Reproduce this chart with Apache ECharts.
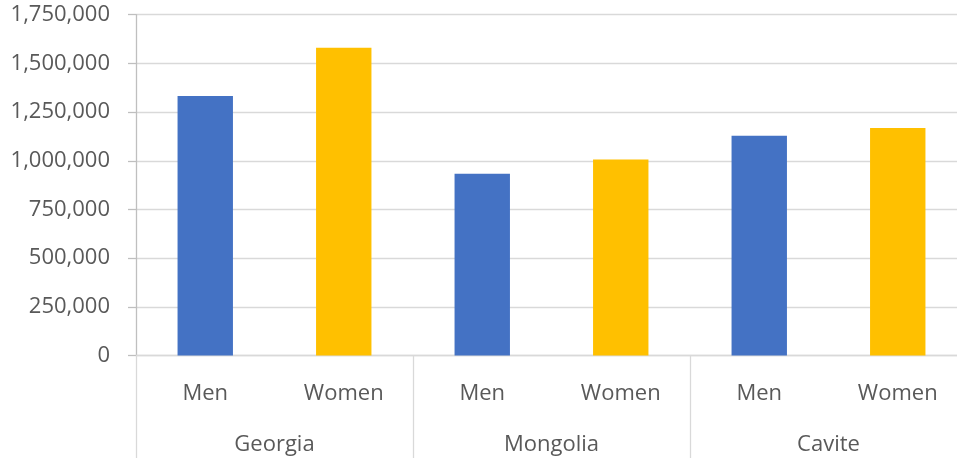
<!DOCTYPE html>
<html>
<head>
<meta charset="utf-8">
<script src="https://cdn.jsdelivr.net/npm/echarts@6/dist/echarts.min.js"></script>
<style>html,body{margin:0;padding:0;background:#fff}#c{width:957px;height:458px}</style>
</head>
<body>
<div id="c"></div>
<script>
const groups = ['Georgia', 'Mongolia', 'Cavite'];
const genders = ['Men', 'Women'];
const categories = ['Men', 'Women', 'Men', 'Women', 'Men', 'Women'];
const values = [1333000, 1580000, 933000, 1007000, 1128000, 1168000];
const yTicks = [0, 250000, 500000, 750000, 1000000, 1250000, 1500000, 1750000];
const genderColors = ['#4472C4', '#FFC000'];

const font = '"Open Sans", "Noto Sans", sans-serif';
const chart = echarts.init(document.getElementById('c'), null, {renderer: 'canvas'});
chart.setOption({
  animation: false,
  grid: {left: 136, right: -10, top: 14.7, bottom: 102.4, containLabel: false, outerBoundsMode: 'none'},
  xAxis: [
    {
      type: 'category', data: categories, position: 'bottom',
      axisLine: {show: true, lineStyle: {color: '#d9d9d9', width: 1.3}},
      axisTick: {show: false},
      axisLabel: {color: '#595959', fontSize: 22, fontFamily: font, margin: 27}
    },
    {
      type: 'category', data: groups, position: 'bottom',
      axisLine: {show: false},
      axisTick: {show: true, length: 110, inside: false, lineStyle: {color: '#d9d9d9', width: 1.3}},
      axisLabel: {color: '#595959', fontSize: 22, fontFamily: font, margin: 78}
    }
  ],
  yAxis: {
    type: 'value', min: yTicks[0], max: yTicks[yTicks.length - 1], interval: yTicks[1] - yTicks[0],
    axisLine: {show: true, lineStyle: {color: '#bfbfbf', width: 1.3}},
    axisTick: {show: true, length: 8, lineStyle: {color: '#bfbfbf', width: 1.3}},
    splitLine: {show: true, lineStyle: {color: '#d9d9d9', width: 1.3}},
    axisLabel: {color: '#595959', fontSize: 22, fontFamily: font, margin: 26,
      formatter: v => v.toLocaleString('en-US')}
  },
  series: [{
    type: 'bar', xAxisIndex: 0, barWidth: '40%',
    data: values.map((v, i) => ({value: v, itemStyle: {color: genderColors[genders.indexOf(categories[i])]}}))
  }]
});
</script>
</body>
</html>
